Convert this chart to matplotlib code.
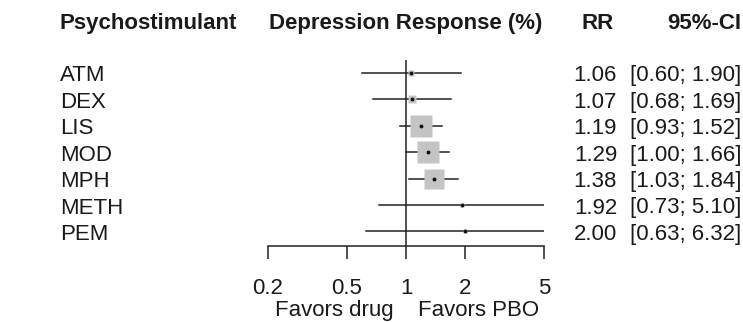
import matplotlib
matplotlib.use("Agg")
import matplotlib.pyplot as plt
import matplotlib.transforms as mtransforms
import numpy as np

plt.rcParams['font.family'] = ['Liberation Sans', 'DejaVu Sans']

drugs = ["ATM", "DEX", "LIS", "MOD", "MPH", "METH", "PEM"]
rr = [1.06, 1.07, 1.19, 1.29, 1.38, 1.92, 2.00]
lower = [0.60, 0.68, 0.93, 1.00, 1.03, 0.73, 0.63]
upper = [1.90, 1.69, 1.52, 1.66, 1.84, 5.10, 6.32]
weights = [3.2, 5.3, 31.9, 31.9, 26.4, 0.6, 0.6]
xticks = [0.2, 0.5, 1, 2, 5]
xticklabels = ["0.2", "0.5", "1", "2", "5"]

W, H = 743, 322
fig = plt.figure(figsize=(W / 100, H / 100), dpi=100)

left_px, right_px = 268, 544
top_px, bot_px = 60, 246
ax = fig.add_axes([left_px / W, 1 - bot_px / H, (right_px - left_px) / W, (bot_px - top_px) / H])
ax.set_xscale('log')
ax.set_xlim(0.2, 5)
row0, step = 73, 26.4
ax.set_ylim((bot_px - row0) / step, (top_px - row0) / step)
for s in ['top', 'right', 'left']:
    ax.spines[s].set_visible(False)
ax.spines['bottom'].set_color('#222222')
ax.spines['bottom'].set_linewidth(1.1)
ax.set_yticks([])
ax.set_xticks(xticks)
ax.set_xticklabels([])
ax.xaxis.set_minor_locator(matplotlib.ticker.NullLocator())
ax.tick_params(axis='x', direction='out', length=9.5, width=1.1, color='#222222')
ax.patch.set_alpha(0)

ax.axvline(1, color='#222222', lw=1.1)

ys = np.arange(len(drugs))
k = 22 * 0.72 / np.sqrt(31.9)
for i in range(len(drugs)):
    ax.plot([lower[i], upper[i]], [ys[i], ys[i]], color='#222222', lw=1.1, zorder=2)
    ax.plot(rr[i], ys[i], marker='s', ms=k * np.sqrt(weights[i]), color='#c4c4c4',
            mec='none', zorder=3, linestyle='none')
    ax.plot(rr[i], ys[i], marker='o', ms=2.8, color='#111111', mec='none', zorder=4,
            linestyle='none')

tc = '#1a1a1a'
fs = 16

def fy(px):
    return 1 - px / H

blend = mtransforms.blended_transform_factory(ax.transData, fig.transFigure)
for xv, lab in zip(xticks, xticklabels):
    ax.text(xv, fy(294), lab, transform=blend, fontsize=fs, color=tc,
            ha='center', va='baseline')

hb = 29
fig.text(60 / W, fy(hb), "Psychostimulant", fontsize=fs, fontweight='bold', color=tc,
         ha='left', va='baseline')
fig.text(406 / W, fy(hb), "Depression Response (%)", fontsize=fs, fontweight='bold', color=tc,
         ha='center', va='baseline')
fig.text(614 / W, fy(hb), "RR", fontsize=fs, fontweight='bold', color=tc, ha='right', va='baseline')
fig.text(741 / W, fy(hb), "95%-CI", fontsize=fs, fontweight='bold', color=tc, ha='right', va='baseline')

for i, d in enumerate(drugs):
    yb = row0 + step * i + 8.5
    fig.text(60 / W, fy(yb), d, fontsize=fs, color=tc, ha='left', va='baseline')
    fig.text(617 / W, fy(yb), f"{rr[i]:.2f}", fontsize=fs, color=tc, ha='right', va='baseline')
    fig.text(741 / W, fy(yb), f"[{lower[i]:.2f}; {upper[i]:.2f}]", fontsize=fs, color=tc,
             ha='right', va='baseline')

fig.text(394 / W, fy(316), "Favors drug", fontsize=fs, color=tc, ha='right', va='baseline')
fig.text(418 / W, fy(316), "Favors PBO", fontsize=fs, color=tc, ha='left', va='baseline')

fig.savefig("out.png", dpi=100, facecolor='white')
